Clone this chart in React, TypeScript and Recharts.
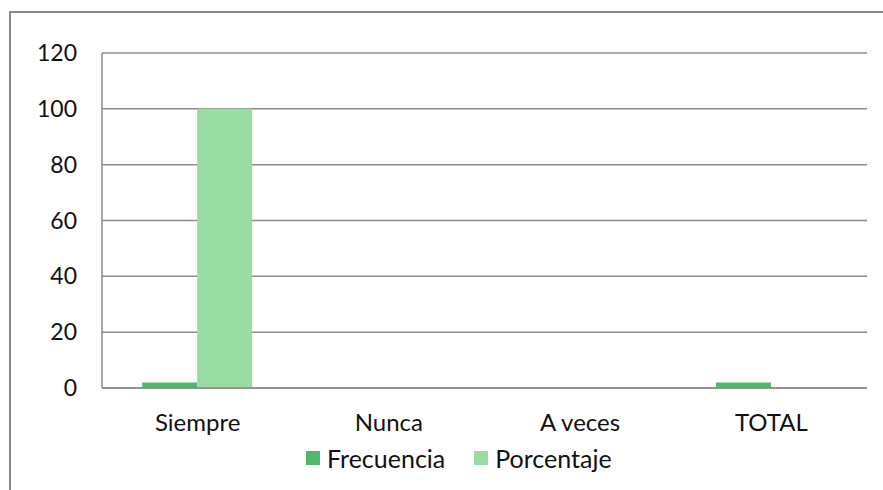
import { Bar, BarChart, CartesianGrid, Legend, XAxis, YAxis } from 'recharts';

const categories = ['Siempre', 'Nunca', 'A veces', 'TOTAL'];
const frecuencia = [2, 0, 0, 2];
const porcentaje = [100, 0, 0, 0];
const yTicks = [0, 20, 40, 60, 80, 100, 120];

const data = categories.map((name, i) => ({
  name,
  Frecuencia: frecuencia[i],
  Porcentaje: porcentaje[i]
}));

const font = 'Lato, "Open Sans", sans-serif';

function LegendBox({ payload }: any) {
  return (
    <div style={{ display: 'flex', alignItems: 'center', gap: 29, fontSize: 25, fontFamily: font, color: '#111' }}>
      {(payload || []).map((p: any) => (
        <div key={p.value} style={{ display: 'flex', alignItems: 'center' }}>
          <span style={{ display: 'inline-block', width: 14, height: 14, background: p.color, marginRight: 7 }} />
          <span>{p.value}</span>
        </div>
      ))}
    </div>
  );
}

export default function App() {
  return (
    <div style={{ position: 'absolute', left: 0, top: 0, width: 883, height: 490, background: '#fff', fontFamily: font }}>
      {/* outer chart frame, cropped on right and bottom */}
      <div
        style={{
          position: 'absolute',
          left: 9,
          top: 11,
          width: 900,
          height: 500,
          borderLeft: '2px solid #888',
          borderTop: '2px solid #888'
        }}
      />
      <div style={{ position: 'absolute', left: 0, top: 0 }}>
        <BarChart
          width={883}
          height={490}
          data={data}
          margin={{ top: 53, right: 16, left: 0, bottom: 24 }}
          barCategoryGap="21%"
          barGap={0}
        >
          <CartesianGrid vertical={false} stroke="#8c8c8c" strokeWidth={1.5} />
          <YAxis
            width={102}
            domain={[0, 120]}
            ticks={yTicks}
            interval={0}
            tickLine={false}
            tickSize={0}
            tickMargin={25}
            axisLine={{ stroke: '#8c8c8c', strokeWidth: 1.5 }}
            tick={{ fill: '#111', fontSize: 23, fontFamily: font }}
          />
          <XAxis
            dataKey="name"
            height={48}
            tickLine={false}
            tickSize={0}
            tickMargin={26}
            axisLine={{ stroke: '#8c8c8c', strokeWidth: 1.5 }}
            tick={{ fill: '#111', fontSize: 24, fontFamily: font }}
          />
          <Legend
            verticalAlign="bottom"
            content={<LegendBox />}
            wrapperStyle={{ left: 306, width: 340, top: 443 }}
          />
          <Bar dataKey="Frecuencia" fill="#4fb86c" isAnimationActive={false} />
          <Bar dataKey="Porcentaje" fill="#98dca4" isAnimationActive={false} />
        </BarChart>
      </div>
    </div>
  );
}
